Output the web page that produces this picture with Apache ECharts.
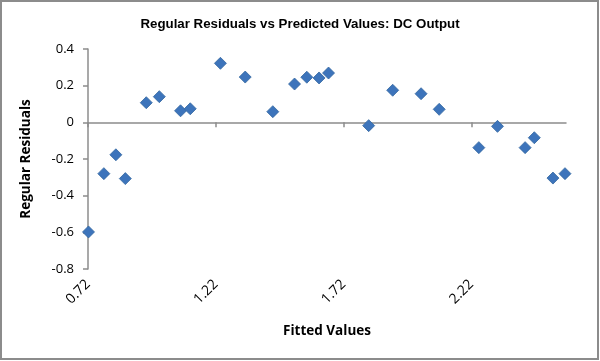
<!DOCTYPE html>
<html>
<head>
<meta charset="utf-8">
<script src="https://cdn.jsdelivr.net/npm/echarts@6/dist/echarts.min.js"></script>
<style>
html,body{margin:0;padding:0;background:#fff;}
#chart{width:600px;height:361px;}
</style>
</head>
<body>
<div id="chart"></div>
<script>
var chartTitle = 'Regular Residuals vs Predicted Values: DC Output';
var xAxisName = 'Fitted Values';
var yAxisName = 'Regular Residuals';
var fittedValues = [0.722, 0.782, 0.829, 0.866, 0.948, 0.999, 1.082, 1.120, 1.238, 1.335, 1.443, 1.528, 1.576, 1.624, 1.661, 1.818, 1.912, 2.023, 2.094, 2.249, 2.322, 2.430, 2.466, 2.539, 2.586];
var residuals = [-0.598, -0.280, -0.177, -0.307, 0.107, 0.140, 0.063, 0.074, 0.322, 0.247, 0.058, 0.209, 0.246, 0.242, 0.269, -0.018, 0.175, 0.156, 0.071, -0.138, -0.022, -0.138, -0.084, -0.304, -0.280];
var xTickLabels = [0.72, 1.22, 1.72, 2.22];
var yTickLabels = [-0.8, -0.6, -0.4, -0.2, 0, 0.2, 0.4];

var points = fittedValues.map(function (x, i) { return [x, residuals[i]]; });
var axisGray = '#8c8c8c';

var chart = echarts.init(document.getElementById('chart'), null, {renderer: 'canvas'});
chart.setOption({
  animation: false,
  backgroundColor: '#fff',
  title: {
    text: chartTitle,
    left: 'center',
    top: 13,
    textStyle: {fontFamily: 'Liberation Sans', fontSize: 13.3, fontWeight: 'bold', color: '#000'}
  },
  grid: {left: 88, right: 34, top: 49, bottom: 92, containLabel: false},
  xAxis: {
    type: 'value',
    min: 0.72,
    max: 2.59,
    interval: 0.5,
    name: xAxisName,
    nameLocation: 'middle',
    nameGap: 55,
    nameTextStyle: {fontFamily: 'Open Sans', fontSize: 13.5, fontWeight: 'bold', color: '#000'},
    splitLine: {show: false},
    axisLine: {lineStyle: {color: axisGray, width: 1.5}},
    axisTick: {show: true, length: 5, inside: false, customValues: xTickLabels, lineStyle: {color: axisGray, width: 1.5}},
    axisLabel: {
      customValues: xTickLabels,
      rotate: 45,
      margin: 13,
      fontFamily: 'Open Sans',
      fontSize: 14,
      color: '#000',
      formatter: function (v) { return v.toFixed(2); }
    }
  },
  yAxis: {
    type: 'value',
    min: -0.8,
    max: 0.4,
    interval: 0.2,
    name: yAxisName,
    nameLocation: 'middle',
    nameRotate: 90,
    nameGap: 55,
    nameTextStyle: {fontFamily: 'Open Sans', fontSize: 13.5, fontWeight: 'bold', color: '#000'},
    splitLine: {show: false},
    axisLine: {show: true, lineStyle: {color: axisGray, width: 1.5}},
    axisTick: {show: true, length: 5, inside: false, customValues: yTickLabels, lineStyle: {color: axisGray, width: 1.5}},
    axisLabel: {
      customValues: yTickLabels,
      margin: 14,
      fontFamily: 'Open Sans',
      fontSize: 13,
      color: '#000',
      formatter: function (v) { return String(Math.round(v * 10) / 10); }
    }
  },
  series: [{
    type: 'scatter',
    data: points,
    symbol: 'diamond',
    symbolSize: 12,
    itemStyle: {color: '#3D74BB', borderColor: '#33679F', borderWidth: 0.8, opacity: 1}
  }],
  graphic: [{
    type: 'rect',
    shape: {x: 1, y: 1, width: 597, height: 358},
    style: {fill: null, stroke: '#8c8c8c', lineWidth: 2},
    silent: true
  }]
});
</script>
</body>
</html>
